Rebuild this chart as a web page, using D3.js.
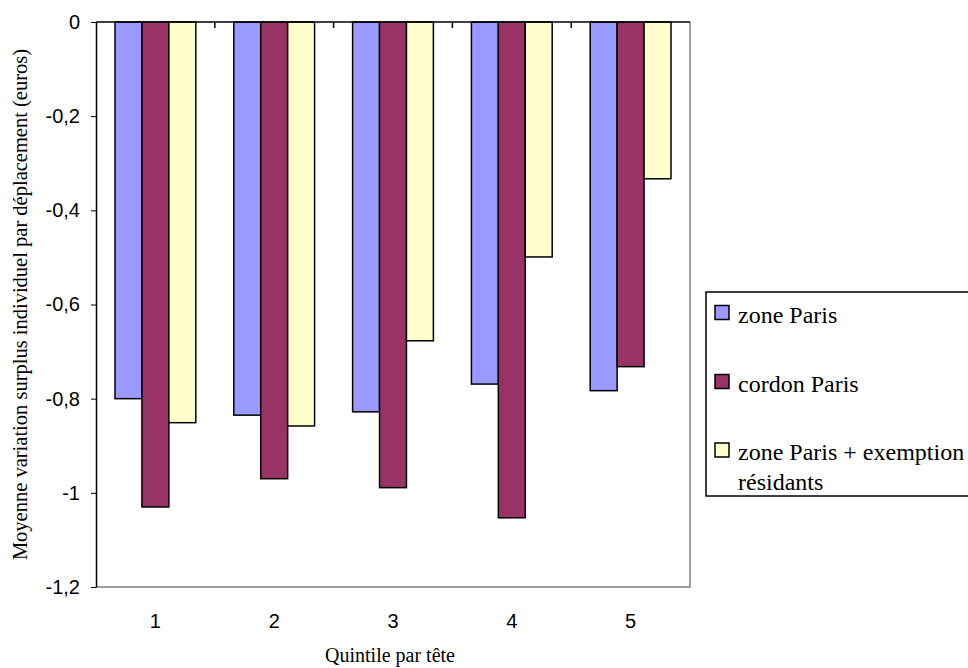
<!DOCTYPE html>
<html>
<head>
<meta charset="utf-8">
<script src="https://cdn.jsdelivr.net/npm/d3@7"></script>
<style>
  body { margin: 0; background: #fff; }
</style>
</head>
<body>
<div id="chart"></div>
<script>
// data
var quintiles = [ "1", "2", "3", "4", "5" ];
var seriesNames = [ "zone Paris", "cordon Paris", "zone Paris + exemption résidants" ];
var zoneParis = [ -0.80, -0.835, -0.828, -0.769, -0.783 ];
var cordonParis = [ -1.03, -0.97, -0.989, -1.053, -0.732 ];
var zoneExemption = [ -0.851, -0.858, -0.677, -0.499, -0.333 ];
var yTicks = [ 0, -0.2, -0.4, -0.6, -0.8, -1, -1.2 ];
var colors = [ "#9999ff", "#993366", "#ffffcc" ];

var series = [ zoneParis, cordonParis, zoneExemption ];

// set the dimensions and margins of the graph
var margin = { top: 22, right: 278, bottom: 81, left: 96 },
    width = 968 - margin.left - margin.right,
    height = 668 - margin.top - margin.bottom;

var svg = d3.select( "#chart" ).append( "svg" )
    .attr( "width", 968 )
    .attr( "height", 668 );

var g = svg.append( "g" )
    .attr( "transform", "translate(" + margin.left + "," + margin.top + ")" );

// set the ranges
var x0 = d3.scaleBand().domain( quintiles ).range( [ 0, width ] )
    .paddingInner( 0.32 ).paddingOuter( 0.16 );
var x1 = d3.scaleBand().domain( [ 0, 1, 2 ] ).range( [ 0, x0.bandwidth() ] );
var y = d3.scaleLinear().domain( [ 0, -1.2 ] ).range( [ 0, height ] );

// plot area border (right + bottom, grey)
g.append( "path" )
    .attr( "d", "M" + width + ",0V" + height + "H0" )
    .attr( "fill", "none" )
    .attr( "stroke", "#808080" )
    .attr( "stroke-width", 1.5 );

// bars
series.forEach( function( values, s ) {
    g.selectAll( ".bar" + s )
        .data( values )
        .enter().append( "rect" )
        .attr( "x", function( d, i ) { return x0( quintiles[ i ] ) + x1( s ); } )
        .attr( "y", y( 0 ) )
        .attr( "width", x1.bandwidth() )
        .attr( "height", function( d ) { return y( d ) - y( 0 ); } )
        .attr( "fill", colors[ s ] )
        .attr( "stroke", "#000" )
        .attr( "stroke-width", 1.5 );
});

// y axis
var yAxis = g.append( "g" )
    .call( d3.axisLeft( y ).tickValues( yTicks ).tickSize( 5 ).tickSizeOuter( 0 )
        .tickFormat( function( d ) { return String( +d.toFixed( 1 ) ).replace( ".", "," ); } ) );
yAxis.select( ".domain" ).attr( "stroke", "#000" ).attr( "stroke-width", 1.5 );
yAxis.selectAll( "text" )
    .attr( "x", -16 )
    .style( "font-family", "Liberation Sans, Arial, sans-serif" )
    .style( "font-size", "20px" )
    .attr( "fill", "#000" );

// x axis line along zero with ticks at group boundaries, pointing into the plot
g.append( "line" )
    .attr( "x1", 0 ).attr( "x2", width )
    .attr( "y1", y( 0 ) ).attr( "y2", y( 0 ) )
    .attr( "stroke", "#000" ).attr( "stroke-width", 1.5 );
g.selectAll( ".xtick" )
    .data( quintiles.slice( 1 ) )
    .enter().append( "line" )
    .attr( "x1", function( d ) { return x0( d ) - x0.step() * x0.paddingInner() / 2; } )
    .attr( "x2", function( d ) { return x0( d ) - x0.step() * x0.paddingInner() / 2; } )
    .attr( "y1", y( 0 ) ).attr( "y2", y( 0 ) + 6 )
    .attr( "stroke", "#000" ).attr( "stroke-width", 1.5 );

// category labels under the plot
g.selectAll( ".xlabel" )
    .data( quintiles )
    .enter().append( "text" )
    .attr( "x", function( d ) { return x0( d ) + x0.bandwidth() / 2; } )
    .attr( "y", height + 41 )
    .style( "font-family", "Liberation Sans, Arial, sans-serif" )
    .style( "font-size", "20px" )
    .style( "text-anchor", "middle" )
    .text( function( d ) { return d; } );

// text label for the x axis
g.append( "text" )
    .attr( "x", width / 2 - 3 )
    .attr( "y", height + 75 )
    .style( "font-family", "Liberation Serif, Times New Roman, serif" )
    .style( "font-size", "20px" )
    .style( "text-anchor", "middle" )
    .text( "Quintile par tête" );

// text label for the y axis
svg.append( "text" )
    .attr( "transform", "translate(27," + ( margin.top + height / 2 ) + ") rotate(-90)" )
    .style( "font-family", "Liberation Serif, Times New Roman, serif" )
    .style( "font-size", "20.5px" )
    .style( "text-anchor", "middle" )
    .text( "Moyenne variation surplus individuel par déplacement (euros)" );

// legend
var legend = svg.append( "g" ).attr( "transform", "translate(706,292)" );
legend.append( "rect" )
    .attr( "x", 0 ).attr( "y", 0 )
    .attr( "width", 275 ).attr( "height", 204 )
    .attr( "fill", "#fff" )
    .attr( "stroke", "#000" ).attr( "stroke-width", 1.5 );

var legendRows = [ 20.5, 89.5, 158 ];
seriesNames.forEach( function( name, s ) {
    var row = legend.append( "g" ).attr( "transform", "translate(9," + legendRows[ s ] + ")" );
    row.append( "rect" )
        .attr( "x", 0 ).attr( "y", -7 )
        .attr( "width", 14 ).attr( "height", 14 )
        .attr( "fill", colors[ s ] )
        .attr( "stroke", "#000" ).attr( "stroke-width", 1.5 );
    var words = s === 2 ? [ "zone Paris + exemption", "résidants" ] : [ name ];
    var t = row.append( "text" )
        .attr( "y", 10 )
        .style( "font-family", "Liberation Serif, Times New Roman, serif" )
        .style( "font-size", "24px" );
    words.forEach( function( w, k ) {
        t.append( "tspan" ).attr( "x", 23 ).attr( "dy", k === 0 ? 0 : 30 ).text( w );
    });
});
</script>
</body>
</html>
